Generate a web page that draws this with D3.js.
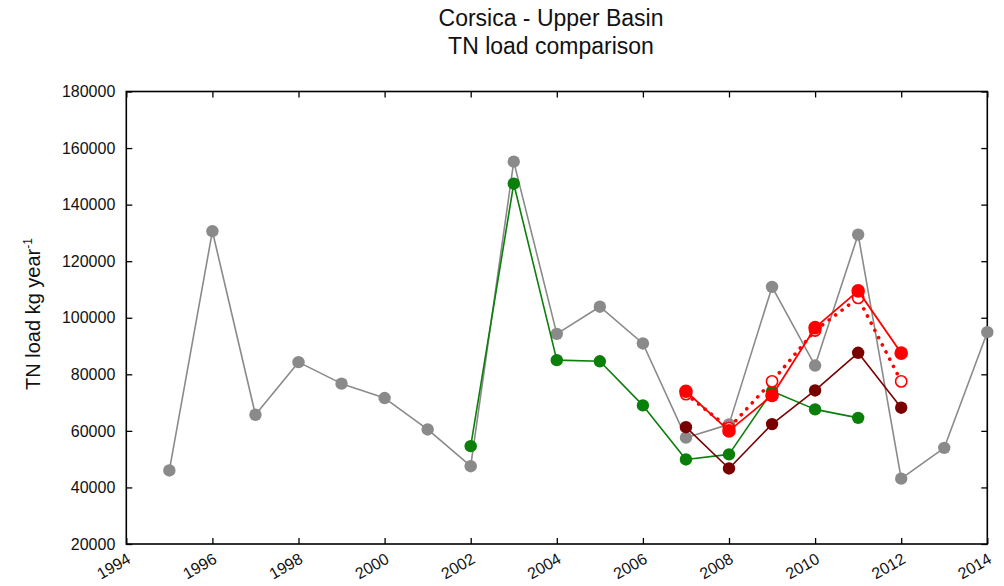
<!DOCTYPE html>
<html>
<head>
<meta charset="utf-8">
<script src="https://cdn.jsdelivr.net/npm/d3@7"></script>
<style>
  html, body { margin: 0; padding: 0; background: #fff; }
  svg { display: block; font-family: "Liberation Sans", Arial, sans-serif; }
</style>
</head>
<body>
<svg id="chart" width="1004" height="586"></svg>
<script>
// TN load series (kg/year) by year
const yearsLong = [1995, 1996, 1997, 1998, 1999, 2000, 2001, 2002, 2003, 2004,
                   2005, 2006, 2007, 2008, 2009, 2010, 2011, 2012, 2013, 2014];
const observedLoad = [46000, 130600, 65700, 84300, 76700, 71600, 60500, 47500, 155200, 94300,
                      103900, 90900, 57600, 62300, 110900, 83100, 129400, 43100, 54000, 94900];

const yearsGreen = [2002, 2003, 2004, 2005, 2006, 2007, 2008, 2009, 2010, 2011];
const greenLoad = [54600, 147400, 85000, 84600, 69000, 49900, 51700, 74000, 67600, 64600];

const yearsRecent = [2007, 2008, 2009, 2010, 2011, 2012];
const darkRedLoad = [61300, 46700, 62400, 74300, 87600, 68200];
const redLoad = [74000, 60000, 72500, 96500, 109500, 87500];
const redDottedLoad = [73000, 61000, 77500, 95500, 107000, 77500];

const xTicks = [1994, 1996, 1998, 2000, 2002, 2004, 2006, 2008, 2010, 2012, 2014];
const yTicks = [20000, 40000, 60000, 80000, 100000, 120000, 140000, 160000, 180000];

const svg = d3.select("#chart");
const plotLeft = 126.3, plotRight = 987.3, plotTop = 91.5, plotBottom = 544;

const x = d3.scaleLinear().domain([1994, 2014]).range([plotLeft, plotRight]);
const y = d3.scaleLinear().domain([20000, 180000]).range([plotBottom, plotTop]);

// Titles
svg.append("text").attr("x", 551).attr("y", 26).attr("text-anchor", "middle")
  .attr("font-size", 23).attr("fill", "#111").text("Corsica - Upper Basin");
svg.append("text").attr("x", 551).attr("y", 54).attr("text-anchor", "middle")
  .attr("font-size", 23).attr("fill", "#111").text("TN load comparison");

// Y axis title with superscript
const yt = svg.append("text")
  .attr("transform", "translate(40,314) rotate(-90)")
  .attr("text-anchor", "middle").attr("font-size", 20).attr("fill", "#111");
yt.append("tspan").text("TN load kg year");
yt.append("tspan").attr("dy", -8).attr("font-size", 12).text("-1");

// Axes: ticks drawn inward on all four sides
const tickLen = 6;
const axisStyle = g => {
  g.select(".domain").remove();
  g.selectAll(".tick line").attr("stroke", "#000").attr("stroke-width", 1.3);
  g.selectAll(".tick text").attr("fill", "#111").attr("font-size", 16)
    .attr("font-family", "\"Liberation Sans\", Arial, sans-serif");
};

svg.append("g").attr("transform", `translate(${plotLeft},0)`)
  .call(d3.axisLeft(y).tickValues(yTicks).tickFormat(d3.format("d"))
    .tickSizeInner(-tickLen).tickSizeOuter(0).tickPadding(5 + tickLen))
  .call(axisStyle);

svg.append("g").attr("transform", `translate(${plotRight},0)`)
  .call(d3.axisRight(y).tickValues(yTicks).tickFormat("")
    .tickSizeInner(-tickLen).tickSizeOuter(0))
  .call(axisStyle);

svg.append("g").attr("transform", `translate(0,${plotTop})`)
  .call(d3.axisTop(x).tickValues(xTicks).tickFormat("")
    .tickSizeInner(-tickLen).tickSizeOuter(0))
  .call(axisStyle);

const xAxis = svg.append("g").attr("transform", `translate(0,${plotBottom})`)
  .call(d3.axisBottom(x).tickValues(xTicks).tickFormat(d3.format("d"))
    .tickSizeInner(-tickLen).tickSizeOuter(0))
  .call(axisStyle);
xAxis.selectAll(".tick text")
  .attr("text-anchor", "end")
  .attr("dy", 0)
  .attr("y", 0)
  .attr("transform", "translate(5,18) rotate(-30)");

// Plot frame
svg.append("rect").attr("x", plotLeft).attr("y", plotTop)
  .attr("width", plotRight - plotLeft).attr("height", plotBottom - plotTop)
  .attr("fill", "none").attr("stroke", "#000").attr("stroke-width", 1.6);

// Series
const line = d3.line().x(d => x(d[0])).y(d => y(d[1]));
const zipPairs = (xs, ys) => xs.map((v, i) => [v, ys[i]]);

function drawSeries(data, opts) {
  const g = svg.append("g");
  g.append("path").datum(data).attr("d", line).attr("fill", "none")
    .attr("stroke", opts.color).attr("stroke-width", opts.width)
    .attr("stroke-dasharray", opts.dash || null)
    .attr("stroke-linecap", opts.dash ? "round" : "butt")
    .attr("stroke-linejoin", "round");
  g.selectAll("circle").data(data).join("circle")
    .attr("cx", d => x(d[0])).attr("cy", d => y(d[1])).attr("r", opts.r)
    .attr("fill", opts.open ? "#fff" : opts.color)
    .attr("stroke", opts.color).attr("stroke-width", opts.open ? 1.6 : 0);
}

drawSeries(zipPairs(yearsLong, observedLoad), { color: "#8a8a8a", width: 1.6, r: 6.2 });
drawSeries(zipPairs(yearsGreen, greenLoad), { color: "#0a7f0a", width: 1.6, r: 6.2 });
drawSeries(zipPairs(yearsRecent, darkRedLoad), { color: "#7a0000", width: 1.6, r: 6.2 });
drawSeries(zipPairs(yearsRecent, redDottedLoad), { color: "#ff0000", width: 3.6, r: 5.6, dash: "0.1 8", open: true });
drawSeries(zipPairs(yearsRecent, redLoad), { color: "#ff0000", width: 1.8, r: 6.8 });
</script>
</body>
</html>
